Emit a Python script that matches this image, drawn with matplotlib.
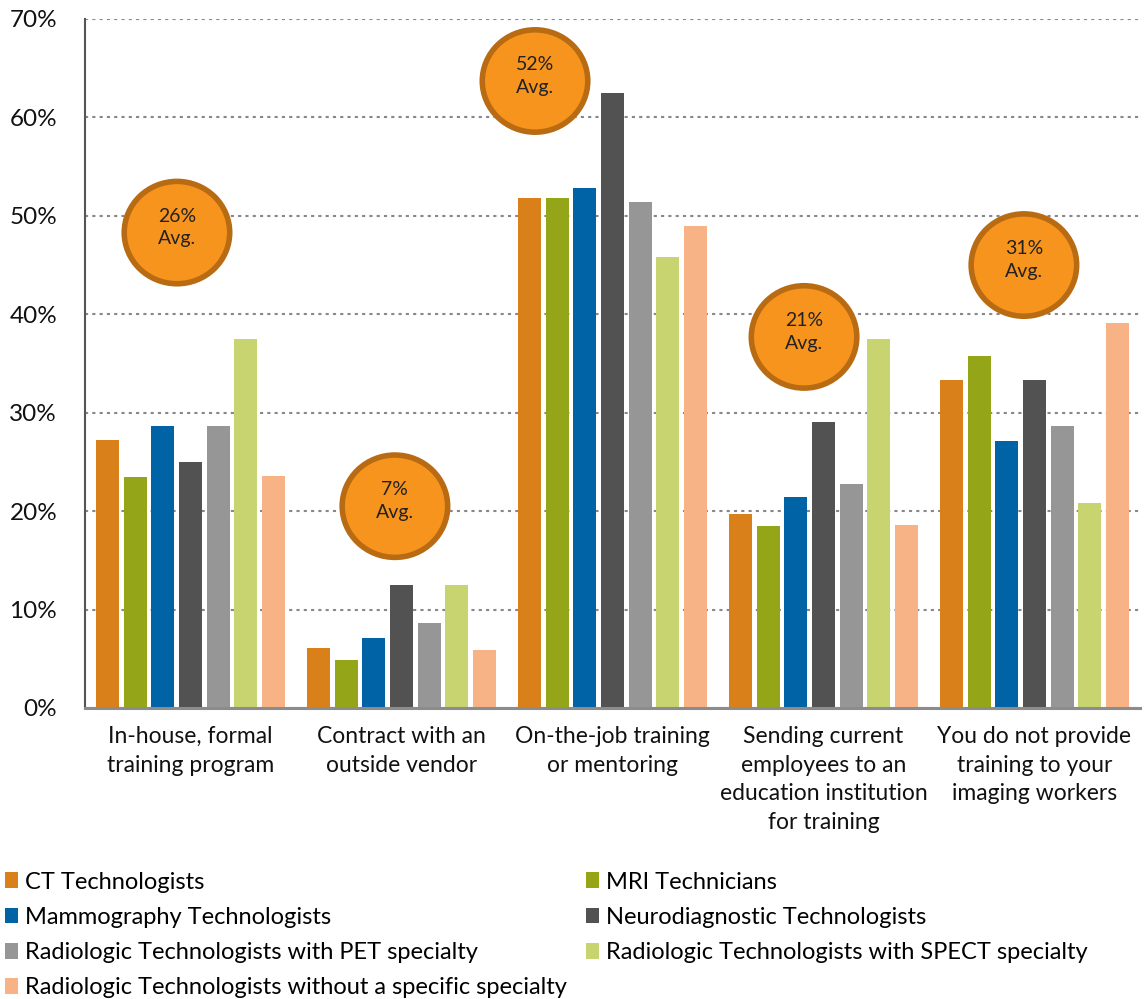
import matplotlib.pyplot as plt
import numpy as np
from matplotlib.patches import Ellipse, Patch

plt.rcParams['font.family'] = ['Lato', 'DejaVu Sans']

# Data
categories = ['In-house, formal\ntraining program',
              'Contract with an\noutside vendor',
              'On-the-job training\nor mentoring',
              'Sending current\nemployees to an\neducation institution\nfor training',
              'You do not provide\ntraining to your\nimaging workers']
series = ['CT Technologists', 'MRI Technicians', 'Mammography Technologists',
          'Neurodiagnostic Technologists', 'Radiologic Technologists with PET specialty',
          'Radiologic Technologists with SPECT specialty',
          'Radiologic Technologists without a specific specialty']
ct = [27.2, 6.1, 51.8, 19.7, 33.3]
mri = [23.5, 4.9, 51.8, 18.5, 35.8]
mammo = [28.6, 7.1, 52.8, 21.4, 27.1]
neuro = [25.0, 12.5, 62.5, 29.1, 33.3]
pet = [28.6, 8.6, 51.4, 22.8, 28.6]
spect = [37.5, 12.5, 45.8, 37.5, 20.8]
no_spec = [23.6, 5.9, 49.0, 18.6, 39.1]
values = [ct, mri, mammo, neuro, pet, spect, no_spec]
colors = ['#DA801A', '#94A617', '#0063A6', '#525252', '#969696', '#C8D46F', '#F7B386']

# Average callouts: label, x (category units), y (%)
avg_labels = ['26%', '7%', '52%', '21%', '31%']
avg_x = [-0.064, 0.969, 1.633, 2.908, 3.95]
avg_y = [48.3, 20.5, 63.7, 37.7, 45.0]

fig = plt.figure(figsize=(11.45, 9.99), dpi=100)
ax = fig.add_axes([0.0742, 0.2913, 0.9214, 0.6897])

slot = 0.131
bar_w = 0.109
index = np.arange(len(categories))
for i, (vals, col) in enumerate(zip(values, colors)):
    ax.bar(index + (i - 3) * slot, vals, bar_w, color=col, zorder=3)

ax.set_xlim(-0.5, 4.5)
ax.set_ylim(0, 70)
ax.set_yticks(np.arange(0, 71, 10))
ax.set_yticklabels([f'{v}%' for v in range(0, 71, 10)], fontsize=17.5)
ax.set_xticks(index)
ax.set_xticklabels(categories, fontsize=16.5, linespacing=1.45, va='top')
ax.tick_params(axis='both', length=0, colors='#111111')
ax.tick_params(axis='y', pad=20)
ax.tick_params(axis='x', pad=13)

ax.grid(axis='y', linestyle=(0, (1.5, 2)), color='#888888', linewidth=1.5, zorder=0)
for s in ['top', 'right']:
    ax.spines[s].set_visible(False)
ax.spines['left'].set_linestyle((0, (1, 1)))
ax.spines['left'].set_color('#555555')
ax.spines['left'].set_linewidth(1.5)
ax.spines['bottom'].set_color('#8C8C8C')
ax.spines['bottom'].set_linewidth(2.2)
ax.spines['bottom'].set_zorder(4)

# Average callout circles
for lab, x, y in zip(avg_labels, avg_x, avg_y):
    ax.add_patch(Ellipse((x, y), 0.5, 10.4, facecolor='#F7941E', edgecolor='#B86B12',
                         linewidth=4, zorder=5, clip_on=False))
    ax.text(x, y + 0.5, f'{lab}\nAvg.', ha='center', va='center', fontsize=14,
            color='#222222', linespacing=1.4, zorder=6)

# Legend, laid out row by row
order = [0, 2, 4, 6, 1, 3, 5]
handles = [Patch(facecolor=colors[k]) for k in order]
labels = [series[k] for k in order]
fig.legend(handles, labels, ncol=2, loc='upper left', bbox_to_anchor=(-0.004, 0.137),
           frameon=False, fontsize=17, handlelength=0.55, handleheight=0.65,
           handletextpad=0.3, columnspacing=0.8, labelspacing=0.6, borderaxespad=0)

plt.savefig('out.png', dpi=100)
